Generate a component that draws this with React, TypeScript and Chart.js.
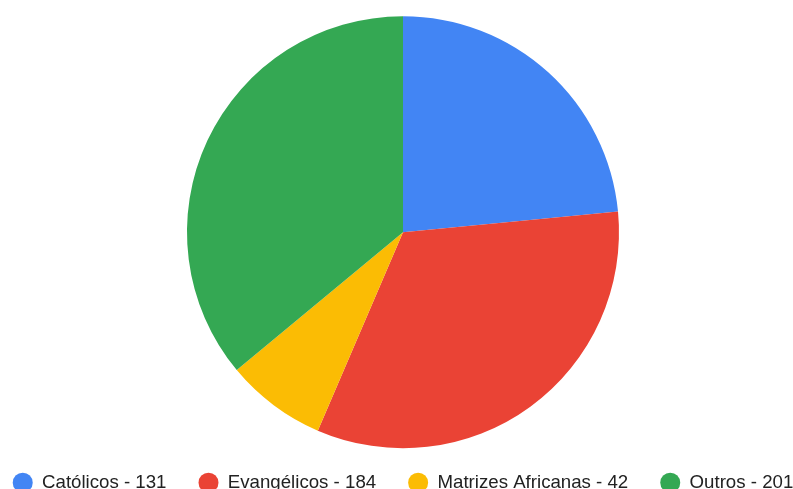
import React, { useEffect, useRef } from "react";
import { Chart, registerables } from "chart.js";

Chart.register(...registerables);

const categories = ["Católicos", "Evangélicos", "Matrizes Africanas", "Outros"];
const values = [131, 184, 42, 201];
const colors = ["#4285F4", "#EA4335", "#FBBC04", "#34A853"];
const legendLabels = categories.map((c, i) => `${c} - ${values[i]}`);

export default function App() {
  const ref = useRef<HTMLCanvasElement | null>(null);
  useEffect(() => {
    if (!ref.current) return;
    const chart = new Chart(ref.current, {
      type: "pie",
      data: {
        labels: legendLabels,
        datasets: [
          {
            data: values,
            backgroundColor: colors,
            borderWidth: 0,
            radius: 216,
          },
        ],
      },
      options: {
        animation: false,
        responsive: true,
        maintainAspectRatio: false,
        layout: { padding: { top: 23, bottom: 0, left: 0, right: 0 } },
        plugins: {
          tooltip: { enabled: false },
          legend: {
            position: "bottom",
            labels: {
              usePointStyle: true,
              pointStyle: "circle",
              pointStyleWidth: 20,
              boxHeight: 14.14,
              padding: 32,
              color: "#222222",
              font: { family: "'Liberation Sans', Arial, sans-serif", size: 18.67 },
            },
          },
        },
      },
    });
    return () => chart.destroy();
  }, []);
  return (
    <div
      style={{
        position: "fixed",
        left: 0,
        top: 0,
        width: 793,
        height: 489,
        overflow: "hidden",
        background: "#ffffff",
      }}
    >
      <div style={{ position: "absolute", left: -47, top: 0, width: 900, height: 502 }}>
        <canvas ref={ref} />
      </div>
    </div>
  );
}
